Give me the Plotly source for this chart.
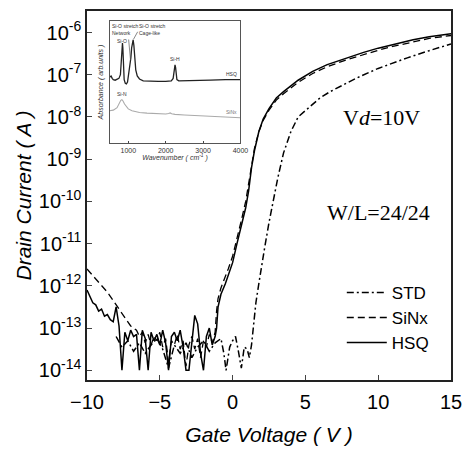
import numpy as np
import plotly.graph_objects as go

# ---------------- main transfer curves (log10 of drain current, A) ----------------
hsq_vg = [-10.0, -9.8, -9.6, -9.4, -9.2, -9.0, -8.8, -8.6, -8.4, -8.2, -8.0, -7.8, -7.6, -7.4,
          -7.2, -7.0, -6.8, -6.6, -6.4, -6.2, -6.0, -5.8, -5.6, -5.4, -5.2, -5.0, -4.8, -4.6,
          -4.4, -4.2, -4.0, -3.8, -3.6, -3.4, -3.2, -3.0, -2.8, -2.6, -2.4, -2.2, -2.0, -1.8,
          -1.6, -1.4, -1.2, -1.1, -1.0, -0.8, -0.5, -0.3, 0.0, 0.3, 0.6, 0.9, 1.1, 1.3, 1.5,
          1.8, 2.1, 2.5, 3.0, 3.5, 4.5, 5.5, 6.5, 7.8, 9.0, 10.0, 11.0, 12.4, 13.5, 15.0]
hsq_logi = [-12.10, -12.25, -12.40, -12.45, -12.60, -12.55, -12.72, -12.68, -12.80, -12.85,
            -12.50, -12.95, -14.00, -13.10, -13.30, -13.05, -13.20, -13.15, -14.00, -13.05,
            -13.25, -14.00, -13.10, -13.30, -13.15, -13.40, -13.05, -13.35, -14.00, -13.20,
            -13.10, -13.30, -13.05, -13.45, -14.00, -14.00, -13.30, -12.70, -12.90, -13.60,
            -14.00, -13.20, -13.00, -13.40, -13.20, -13.00, -12.50, -12.20, -11.95, -11.75,
            -11.45, -11.00, -10.60, -10.15, -9.75, -9.20, -8.80, -8.35, -8.05, -7.80, -7.55,
            -7.40, -7.13, -6.92, -6.76, -6.60, -6.47, -6.37, -6.28, -6.17, -6.10, -6.03]

sinx_vg = [-10.0, -9.5, -9.0, -8.6, -8.2, -7.8, -7.4, -7.0, -6.6, -6.4, -6.2, -6.0, -5.8, -5.6,
           -5.4, -5.2, -5.0, -4.8, -4.6, -4.4, -4.2, -4.0, -3.8, -3.6, -3.4, -3.2, -3.0, -2.8,
           -2.6, -2.4, -2.2, -2.0, -1.8, -1.6, -1.4, -1.2, -1.1, -1.0, -0.8, -0.5, -0.3, 0.0,
           0.3, 0.6, 0.9, 1.1, 1.3, 1.5, 1.8, 2.1, 2.5, 3.0, 3.5, 4.5, 5.5, 6.5, 7.8, 9.0,
           10.0, 11.0, 12.4, 13.5, 15.0]
sinx_logi = [-11.60, -11.80, -12.00, -12.15, -12.35, -12.55, -12.75, -12.95, -13.05, -13.20,
             -13.10, -13.35, -13.15, -13.40, -13.20, -13.30, -13.10, -13.45, -13.25, -13.80,
             -13.30, -13.40, -13.15, -13.50, -13.30, -13.90, -13.40, -13.20, -13.50, -13.25,
             -13.70, -13.30, -13.45, -13.15, -13.35, -13.10, -12.60, -12.30, -12.05, -11.80,
             -11.60, -11.30, -10.90, -10.45, -10.00, -9.60, -9.10, -8.75, -8.35, -8.08, -7.84,
             -7.60, -7.45, -7.18, -6.97, -6.81, -6.65, -6.52, -6.42, -6.33, -6.22, -6.14, -6.07]

std_vg = [-8.0, -7.6, -7.2, -6.8, -6.4, -6.0, -5.6, -5.2, -4.8, -4.4, -4.0, -3.6, -3.2, -2.8,
          -2.4, -2.0, -1.6, -1.2, -0.8, -0.6, -0.45, -0.2, 0.0, 0.2, 0.4, 0.6, 0.8, 1.0, 1.15,
          1.3, 1.45, 1.6, 1.8, 2.0, 2.2, 2.5, 2.8, 3.1, 3.5, 4.0, 4.5, 5.3, 6.0, 6.7, 7.5, 8.5,
          10.0, 11.0, 12.0, 13.5, 15.0]
std_logi = [-13.20, -13.45, -13.30, -13.55, -13.35, -13.60, -13.40, -13.25, -13.50, -13.95,
            -13.40, -13.60, -13.35, -13.70, -13.45, -13.30, -13.55, -13.35, -13.25, -13.60,
            -14.00, -13.45, -13.30, -13.20, -13.55, -13.95, -13.45, -13.50, -13.70, -13.40,
            -12.90, -12.40, -11.95, -11.50, -11.10, -10.50, -9.95, -9.45, -8.85, -8.35, -8.00,
            -7.75, -7.55, -7.40, -7.25, -7.08, -6.85, -6.72, -6.60, -6.43, -6.27]

y_tick_exp = [-14, -13, -12, -11, -10, -9, -8, -7, -6]
x_tick_vals = [-10, -5, 0, 5, 10, 15]

# ---------------- inset FTIR spectra ----------------
hsq_wn = [500, 540, 570, 600, 650, 700, 750, 790, 820, 835, 845, 855, 870, 890, 920, 950, 980,
          1010, 1040, 1055, 1070, 1090, 1110, 1130, 1150, 1170, 1200, 1240, 1300, 1400, 1600,
          1800, 2000, 2150, 2200, 2230, 2250, 2265, 2280, 2300, 2350, 2500, 2800, 3200, 3600, 4000]
hsq_abs = [0.54, 0.55, 0.53, 0.52, 0.515, 0.52, 0.53, 0.56, 0.70, 0.81, 0.82, 0.78, 0.62, 0.52,
           0.49, 0.485, 0.50, 0.56, 0.66, 0.68, 0.70, 0.78, 0.83, 0.845, 0.80, 0.70, 0.60, 0.55,
           0.525, 0.51, 0.505, 0.505, 0.505, 0.51, 0.53, 0.59, 0.64, 0.62, 0.55, 0.52, 0.51,
           0.51, 0.512, 0.515, 0.52, 0.52]
sinx_wn = [500, 600, 700, 760, 800, 830, 860, 900, 950, 1000, 1100, 1200, 1300, 1500, 1800,
           2000, 2080, 2120, 2160, 2250, 2500, 3000, 3500, 4000]
sinx_abs = [0.265, 0.27, 0.29, 0.33, 0.35, 0.355, 0.345, 0.32, 0.295, 0.28, 0.265, 0.255, 0.25,
            0.245, 0.24, 0.238, 0.242, 0.247, 0.24, 0.235, 0.23, 0.222, 0.215, 0.208]
inset_x_ticks = [1000, 2000, 3000, 4000]

fig = go.Figure()

fig.add_trace(go.Scatter(x=std_vg, y=10 ** np.array(std_logi), mode="lines", name="STD",
                         line=dict(color="black", width=1.5, dash="7px,3px,2px,3px")))
fig.add_trace(go.Scatter(x=sinx_vg, y=10 ** np.array(sinx_logi), mode="lines", name="SiNx",
                         line=dict(color="black", width=1.3, dash="7px,4px")))
fig.add_trace(go.Scatter(x=hsq_vg, y=10 ** np.array(hsq_logi), mode="lines", name="HSQ",
                         line=dict(color="black", width=1.5)))

fig.add_trace(go.Scatter(x=hsq_wn, y=hsq_abs, mode="lines", xaxis="x2", yaxis="y2",
                         showlegend=False, line=dict(color="#222", width=1.3)))
fig.add_trace(go.Scatter(x=sinx_wn, y=sinx_abs, mode="lines", xaxis="x2", yaxis="y2",
                         showlegend=False, line=dict(color="#aaa", width=1.1)))

axis_font = dict(family="Liberation Sans, Arial", size=20, color="black")
fig.update_layout(
    width=471, height=452,
    margin=dict(l=87, r=14, t=9, b=69),
    paper_bgcolor="white", plot_bgcolor="white",
    showlegend=True,
    legend=dict(x=0.70, y=0.285, xanchor="left", yanchor="top",
                font=dict(family="Liberation Sans, Arial", size=17, color="black"),
                bgcolor="rgba(0,0,0,0)", itemwidth=40, tracegroupgap=0),
    xaxis=dict(range=[-10, 15], tickvals=x_tick_vals, ticks="inside", ticklen=5,
               showline=True, linecolor="#222", linewidth=1.5, mirror=True, showgrid=False,
               zeroline=False, tickfont=axis_font, ticklabelstandoff=3,
               title=dict(text="<i>Gate Voltage ( V )</i>",
                          font=dict(family="Liberation Sans, Arial", size=21, color="black"),
                          standoff=16)),
    yaxis=dict(type="log", range=[-14.23, -5.49],
               tickvals=[10.0 ** e for e in y_tick_exp],
               ticktext=["10<sup>%d</sup>" % e for e in y_tick_exp],
               ticks="inside", ticklen=5, showline=True, linecolor="#222", linewidth=1.5,
               mirror=True, showgrid=False, zeroline=False, tickfont=axis_font,
               title=dict(text="<i>Drain Current ( A )</i>",
                          font=dict(family="Liberation Sans, Arial", size=21, color="black"),
                          standoff=1)),
    xaxis2=dict(domain=[0.062, 0.4216], anchor="y2", range=[500, 4000],
                tickvals=inset_x_ticks, ticks="inside", ticklen=2, showline=True,
                linecolor="#555", linewidth=1, mirror=True, showgrid=False, zeroline=False,
                tickfont=dict(family="Liberation Sans, Arial", size=7, color="#333"),
                title=dict(text="<i>Wavenumber ( cm<sup>-1</sup> )</i>",
                           font=dict(family="Liberation Sans, Arial", size=7, color="#333"),
                           standoff=2)),
    yaxis2=dict(domain=[0.642, 0.973], anchor="x2", range=[0, 1], showticklabels=False,
                ticks="", showline=True, linecolor="#555", linewidth=1, mirror=True,
                showgrid=False, zeroline=False,
                title=dict(text="<i>Absorbance ( arb.units )</i>",
                           font=dict(family="Liberation Sans, Arial", size=7, color="#333"),
                           standoff=4)),
)

serif = dict(family="Liberation Serif, Times New Roman", size=22, color="black")
fig.add_annotation(xref="paper", yref="paper", x=0.808, y=0.711, text="V<i>d</i>=10V",
                   showarrow=False, font=serif, xanchor="center", yanchor="middle")
fig.add_annotation(xref="paper", yref="paper", x=0.80, y=0.455, text="W/L=24/24",
                   showarrow=False, font=serif, xanchor="center", yanchor="middle")

small = dict(family="Liberation Sans, Arial", size=5, color="#333")
fig.add_annotation(xref="x2", yref="y2", x=540, y=0.995, text="Si-O stretch<br>Network",
                   showarrow=False, font=small, xanchor="left", yanchor="top", align="left",
                   borderpad=0)
fig.add_annotation(xref="x2", yref="y2", x=1270, y=0.995, text="Si-O stretch<br>Cage-like",
                   showarrow=False, font=small, xanchor="left", yanchor="top", align="left",
                   borderpad=0)
fig.add_annotation(xref="x2", yref="y2", x=1060, y=0.68, ax=-2, ay=-22, text="",
                   showarrow=True, arrowhead=0, arrowwidth=0.7, arrowcolor="#555")
fig.add_annotation(xref="x2", yref="y2", x=1140, y=0.85, ax=5, ay=-9, text="",
                   showarrow=True, arrowhead=0, arrowwidth=0.7, arrowcolor="#555")
fig.add_annotation(xref="x2", yref="y2", x=820, y=0.805, text="Si-O", yanchor="bottom",
                   xanchor="center", showarrow=False, font=small, borderpad=0)
fig.add_annotation(xref="x2", yref="y2", x=2250, y=0.655, text="Si-H", yanchor="bottom",
                   xanchor="center", showarrow=False, font=small, borderpad=0)
fig.add_annotation(xref="x2", yref="y2", x=3930, y=0.53, text="HSQ", yanchor="bottom",
                   xanchor="right", showarrow=False, font=small, borderpad=0)
fig.add_annotation(xref="x2", yref="y2", x=820, y=0.37, text="Si-N", yanchor="bottom",
                   xanchor="center", showarrow=False, font=small, borderpad=0)
fig.add_annotation(xref="x2", yref="y2", x=3930, y=0.22, text="SiNx", yanchor="bottom",
                   xanchor="right", showarrow=False, borderpad=0,
                   font=dict(family="Liberation Sans, Arial", size=5, color="#777"))

fig.write_html("out.html", config={"displayModeBar": False},
               post_script="document.body.style.margin='0px';"
                           "document.documentElement.style.overflow='hidden';")
